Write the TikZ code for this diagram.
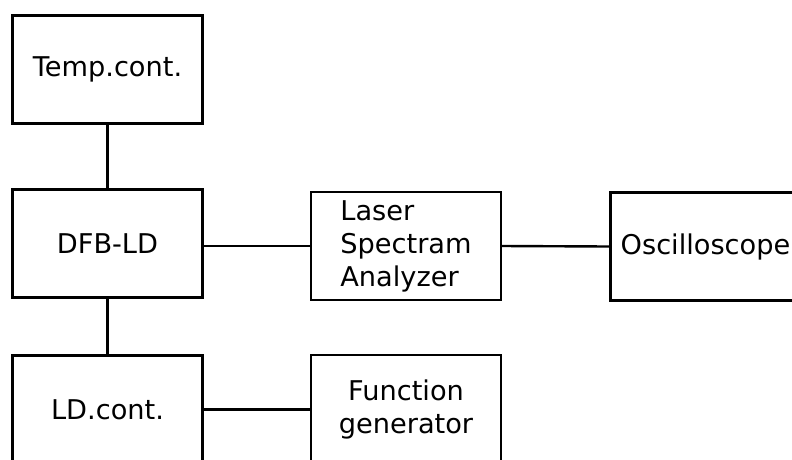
\documentclass[tikz,border=0pt]{standalone}
\usepackage{fontspec}
\setmainfont{DejaVu Sans}
\usepackage{tikz}

\tikzset{
  blockbox/.style={draw, line width=2.4pt, minimum width=190pt, minimum height=108pt,
    inner sep=0pt, font=\fontsize{27.2}{33}\selectfont},
  wire/.style={line width=2.4pt}
}

\begin{document}
\begin{tikzpicture}[x=1pt, y=-1pt]
            \useasboundingbox (0,0) rectangle (792,459);
            \clip (0,0) rectangle (792,459);

            \node[blockbox] (temp) at (107.5,69.5) {Temp.cont.};
            \node[blockbox] (dfb)  at (107.5,243.5) {DFB-LD};
            \node[blockbox] (ld)   at (107.5,409.5) {LD.cont.};
            \node[blockbox, align=left] (lsa) at (406,246) {Laser\\Spectram\\Analyzer};
            \node[blockbox, align=center] (fg) at (406,409) {Function\\generator};
            \node[blockbox] (osc)  at (705.5,246.5) {Oscilloscope};

            \draw[wire] (temp.south) -- (dfb.north);
            \draw[wire] (dfb.south) -- (ld.north);
            \draw[wire] (lsa.west -| dfb.east) -- (lsa.west);
            \draw[wire] (lsa.east) -- (osc.west);
            \draw[wire] (ld.east) -- (fg.west |- ld.east);
        \end{tikzpicture}
\end{document}
